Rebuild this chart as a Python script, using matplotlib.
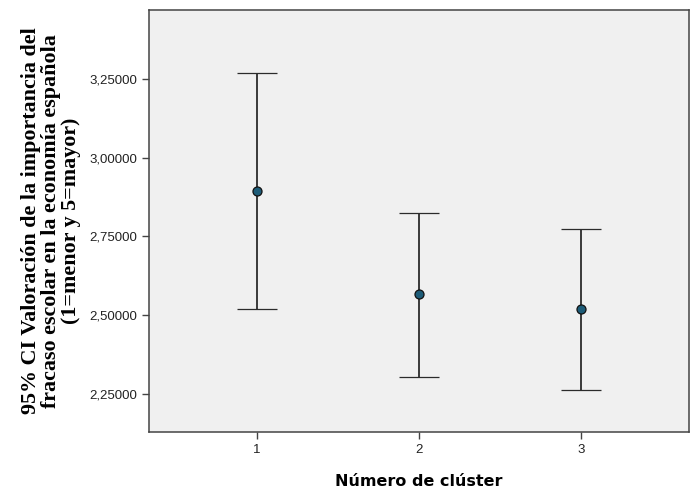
import numpy as np
import matplotlib.pyplot as plt
from matplotlib.ticker import FuncFormatter

# datos (IC 95%)
clusters = [1, 2, 3]
medias = [2.893, 2.566, 2.521]
ic_sup = [3.270, 2.823, 2.775]
ic_inf = [2.520, 2.305, 2.263]

fig = plt.figure(figsize=(6.97, 4.93), dpi=100)
ax = fig.add_axes([0.2138, 0.1237, 0.7747, 0.856])
ax.set_facecolor('#f0f0f0')

medias = np.array(medias)
err = [medias - np.array(ic_inf), np.array(ic_sup) - medias]
ax.errorbar(clusters, medias, yerr=err, fmt='o', color='#1e1e1e', ecolor='#2b2b2b',
            elinewidth=1.3, capsize=14.4, capthick=1.3,
            markerfacecolor='#1d5c78', markeredgecolor='#111111', markersize=6.5,
            markeredgewidth=0.9, zorder=3)

ax.set_xlim(1/3, 11/3)
ax.set_ylim(2.129, 3.469)
ax.set_xticks(clusters)
ax.set_yticks([2.25, 2.5, 2.75, 3.0, 3.25])
ax.yaxis.set_major_formatter(FuncFormatter(lambda v, p: f"{v:.5f}".replace('.', ',')))

for s in ax.spines.values():
    s.set_color('#444444')
    s.set_linewidth(1.1)
ax.tick_params(direction='out', length=5, width=1, color='#444444',
               labelsize=9.5, labelcolor='#222222')
for lab in ax.get_xticklabels() + ax.get_yticklabels():
    lab.set_fontfamily('Liberation Sans')

ax.set_xlabel('Número de clúster', fontfamily='DejaVu Sans', fontweight='bold',
              fontsize=11.5, labelpad=13)
ax.set_ylabel('95% CI Valoración de la importancia del\n'
              'fracaso escolar en la economía española\n'
              '(1=menor y 5=mayor)',
              fontfamily='Liberation Serif', fontweight='bold', fontsize=15.8,
              linespacing=1.0, labelpad=6)

fig.savefig('out.png', dpi=100)
